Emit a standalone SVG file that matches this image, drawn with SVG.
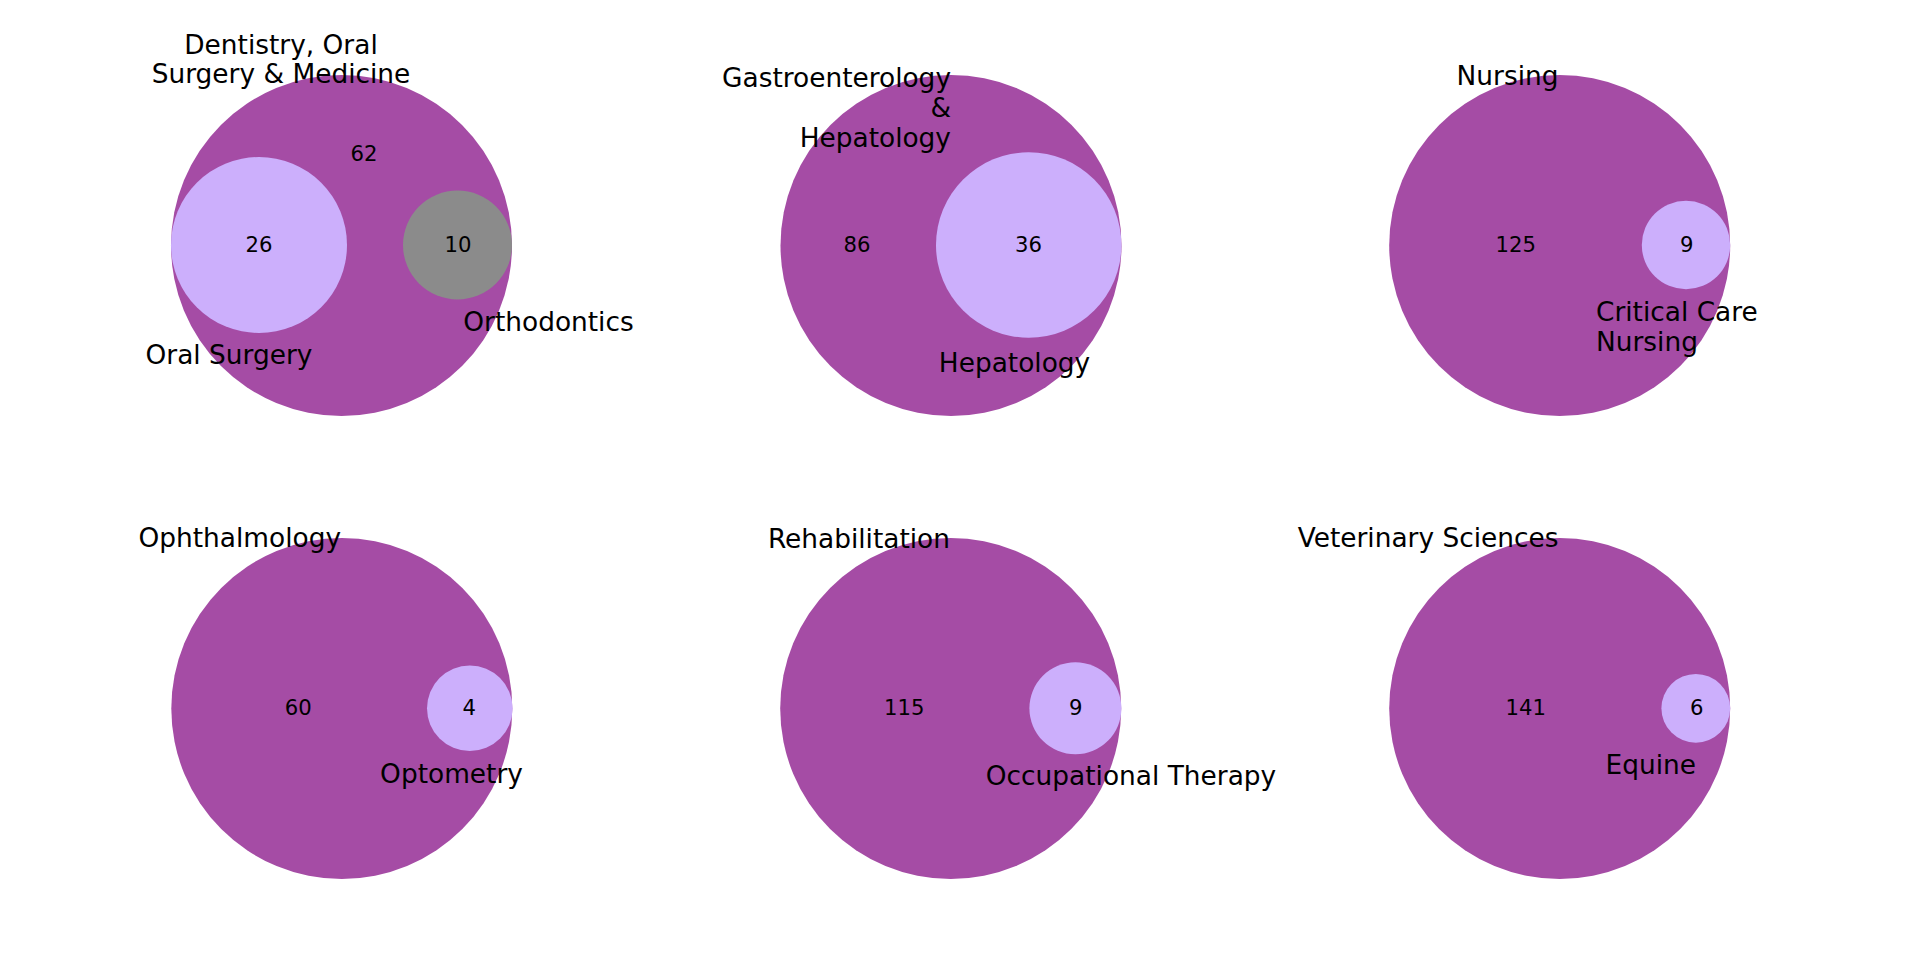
<svg xmlns="http://www.w3.org/2000/svg" width="1920" height="977" viewBox="0 0 1920 977">
<style>
text { font-family: "DejaVu Sans", "Liberation Sans", sans-serif; fill: #000; }
.num { font-size: 21.2px; text-anchor: middle; }
.lbl { font-size: 26.4px; }
.big { fill: #a54ca5; }
.sub { fill: #ccaffc; }
.gray { fill: #8b8b8b; }
.mid { text-anchor: middle; }
.end { text-anchor: end; }
.start { text-anchor: start; }
</style>
<rect width="1920" height="977" fill="#fff"/>

<g id="venn-dentistry">
  <circle class="big" cx="341.5" cy="245.5" r="170.5"/>
  <circle class="sub" cx="259" cy="245" r="88"/>
  <circle class="gray" cx="457.5" cy="245" r="54.5"/>
  <text class="num" x="364" y="160.5">62</text>
  <text class="num" x="259" y="251.5">26</text>
  <text class="num" x="458" y="251.5">10</text>
  <text class="lbl mid" x="281" y="54.3">Dentistry, Oral</text>
  <text class="lbl mid" x="281" y="83.3">Surgery &amp; Medicine</text>
  <text class="lbl mid" x="229" y="364">Oral Surgery</text>
  <text class="lbl mid" x="548.5" y="331">Orthodontics</text>
</g>

<g id="venn-gastro">
  <circle class="big" cx="951" cy="245.5" r="170.5"/>
  <circle class="sub" cx="1028.7" cy="245" r="92.7"/>
  <text class="num" x="857" y="251.5">86</text>
  <text class="num" x="1028.6" y="251.5">36</text>
  <text class="lbl end" x="951" y="86.5">Gastroenterology</text>
  <text class="lbl end" x="951" y="116.5">&amp;</text>
  <text class="lbl end" x="951" y="146.5">Hepatology</text>
  <text class="lbl mid" x="1014.5" y="372">Hepatology</text>
</g>

<g id="venn-nursing">
  <circle class="big" cx="1559.7" cy="245.5" r="170.5"/>
  <circle class="sub" cx="1686" cy="245" r="44.2"/>
  <text class="num" x="1515.7" y="251.5">125</text>
  <text class="num" x="1686.7" y="251.5">9</text>
  <text class="lbl end" x="1558.5" y="84.5">Nursing</text>
  <text class="lbl start" x="1596" y="320.5">Critical Care</text>
  <text class="lbl start" x="1596" y="351">Nursing</text>
</g>

<g id="venn-ophthalmology">
  <circle class="big" cx="341.8" cy="708.5" r="170.5"/>
  <circle class="sub" cx="469.8" cy="708.3" r="42.8"/>
  <text class="num" x="298.3" y="715">60</text>
  <text class="num" x="469.3" y="715">4</text>
  <text class="lbl end" x="341" y="547">Ophthalmology</text>
  <text class="lbl mid" x="451.5" y="782.7">Optometry</text>
</g>

<g id="venn-rehabilitation">
  <circle class="big" cx="950.7" cy="708.5" r="170.5"/>
  <circle class="sub" cx="1075.4" cy="708.3" r="46"/>
  <text class="num" x="904.3" y="715">115</text>
  <text class="num" x="1075.7" y="715">9</text>
  <text class="lbl end" x="950" y="547.5">Rehabilitation</text>
  <text class="lbl mid" x="1131" y="785">Occupational Therapy</text>
</g>

<g id="venn-veterinary">
  <circle class="big" cx="1559.7" cy="708.5" r="170.5"/>
  <circle class="sub" cx="1695.8" cy="708.3" r="34.4"/>
  <text class="num" x="1525.7" y="715">141</text>
  <text class="num" x="1696.7" y="715">6</text>
  <text class="lbl end" x="1558.5" y="547">Veterinary Sciences</text>
  <text class="lbl mid" x="1650.8" y="774.3">Equine</text>
</g>
</svg>
